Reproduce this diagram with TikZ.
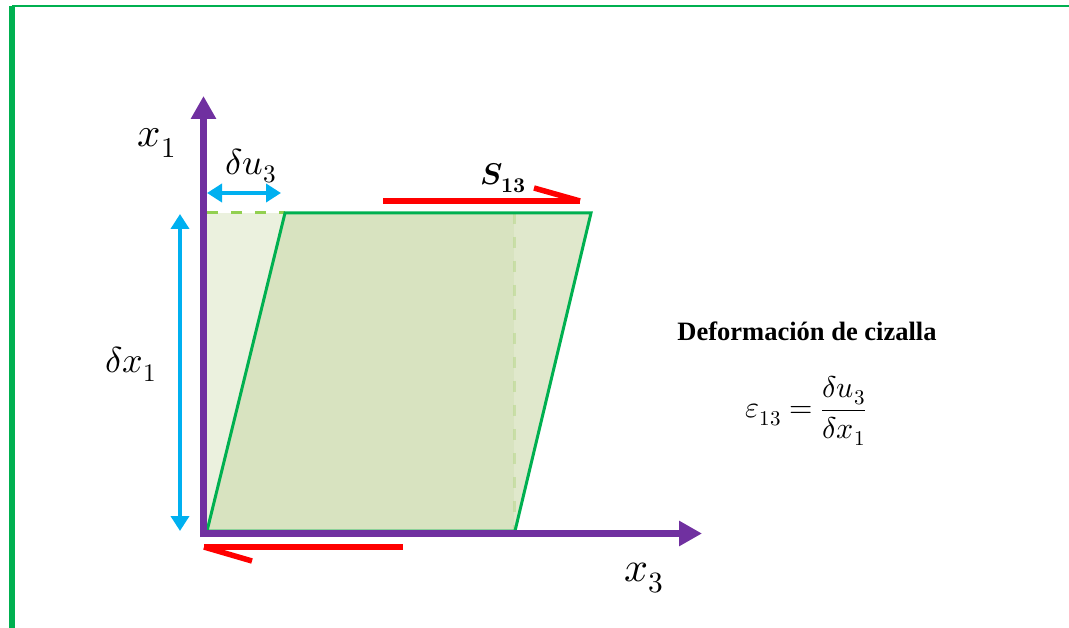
\documentclass[tikz,border=0pt]{standalone}
\usepackage{amsmath}
\usepackage{fontspec}
\usepackage{unicode-math}
\setmathfont{Latin Modern Math}
\usetikzlibrary{arrows.meta}
\newfontfamily\tnr{Liberation Serif}
\definecolor{pgreen}{HTML}{00B050}
\definecolor{ppurple}{HTML}{7030A0}
\definecolor{pblue}{HTML}{00B0F0}
\definecolor{pred}{HTML}{FF0000}
\definecolor{dgreen}{HTML}{92D050}
\definecolor{rectfill}{HTML}{EBF1DE}
\definecolor{parfill}{HTML}{CFDCB1}
\begin{document}
\begin{tikzpicture}[x=1pt,y=-1pt,
  axis/.style={ppurple,line width=7pt,-{Triangle[length=23pt,width=24pt]}},
  meas/.style={pblue,line width=4pt,{Triangle[length=15pt,width=18pt]}-{Triangle[length=15pt,width=18pt]}},
  force/.style={pred,line width=5.5pt},
  guide/.style={dgreen,line width=3pt,dash pattern=on 11pt off 13pt},
  lbl/.style={inner sep=0pt,text=black}]
\useasboundingbox (0,0) rectangle (1069,628);
% frame
\coordinate (F1) at (12,6); \coordinate (F2) at (1069,6);
\coordinate (F3) at (9,6); \coordinate (F4) at (15,628);
\draw[pgreen,line width=1.2pt] (F1) -- (F2);
\fill[pgreen] (F3) rectangle (F4);
% shapes
\coordinate (A) at (207,531);
\coordinate (B) at (515,531);
\coordinate (C) at (591,213);
\coordinate (D) at (285,213);
\coordinate (R) at (207,213);
\coordinate (Q) at (514,213);
\coordinate (Qb) at (514,531);
\fill[rectfill] (A) rectangle (Q);
\draw[guide] (R) -- (D);
\draw[guide,opacity=0.6] (Q) -- (Qb);
\fill[parfill,fill opacity=0.65] (A) -- (B) -- (C) -- (D) -- cycle;
\draw[pgreen,line width=3pt,line join=miter] (A) -- (B) -- (C) -- (D) -- cycle;
% axes
\coordinate (Vb) at (203.5,537); \coordinate (Vt) at (203.5,96);
\coordinate (Hl) at (200,533.5); \coordinate (Hr) at (702,533.5);
\draw[axis] (Vb) -- (Vt);
\draw[axis] (Hl) -- (Hr);
% measures
\coordinate (U1) at (207,193); \coordinate (U2) at (281,193);
\coordinate (X1) at (180,214); \coordinate (X2) at (180,531);
\draw[meas] (U1) -- (U2);
\draw[meas] (X1) -- (X2);
% shear forces
\coordinate (T1) at (383,201); \coordinate (T2) at (580,201); \coordinate (T3) at (534,188);
\coordinate (B1) at (204,547); \coordinate (B2) at (403,547); \coordinate (B3) at (252,561);
\draw[force] (T1) -- (T2);
\draw[force] (T3) -- (T2);
\draw[force] (B1) -- (B2);
\draw[force] (B1) -- (B3);
% labels
\node[lbl] (x1) at (157,143) {\fontsize{41}{48}\selectfont $x_1$};
\node[lbl] (x3) at (644,578) {\fontsize{42}{48}\selectfont $x_3$};
\node[lbl] (du) at (251,166) {\fontsize{36}{42}\selectfont $\delta u_3$};
\node[lbl] (dx) at (131,364) {\fontsize{36}{42}\selectfont $\delta x_1$};
\node[lbl] (s13) at (503,178) {\fontsize{30}{36}\selectfont $\symbfit{S}_{\symbf{13}}$};
\node[lbl] (title) at (807,331) {\fontsize{26.5}{30}\selectfont\tnr\bfseries Deformación de cizalla};
\node[lbl] (eq) at (806,411) {\fontsize{30}{36}\selectfont $\varepsilon_{13}=\dfrac{\delta u_3}{\delta x_1}$};
\end{tikzpicture}
\end{document}
